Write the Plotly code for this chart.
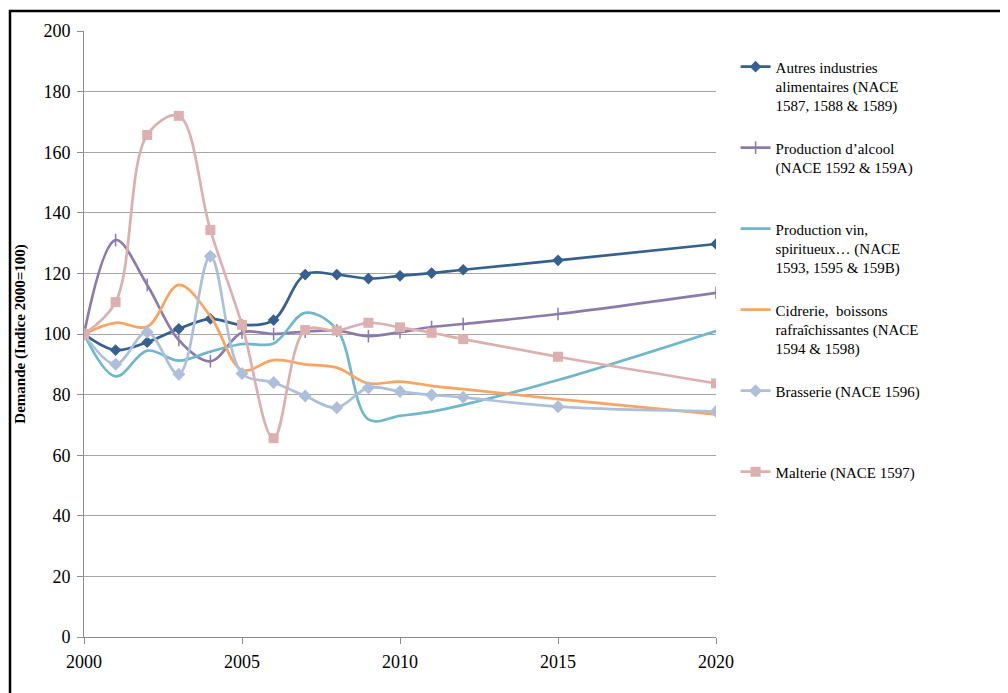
import plotly.graph_objects as go

years = [2000, 2001, 2002, 2003, 2004, 2005, 2006, 2007, 2008, 2009, 2010, 2011, 2012, 2015, 2020]

autres = [100, 94.7, 97.3, 101.7, 105.0, 103.0, 104.6, 119.6, 119.6, 118.3, 119.2, 120.1, 121.2, 124.3, 129.7]
alcool = [100, 131.0, 116.2, 98.0, 91.0, 100.5, 100.0, 100.8, 101.1, 99.3, 100.6, 102.3, 103.3, 106.6, 113.6]
vin = [100, 86.0, 94.5, 91.2, 94.2, 96.7, 96.9, 107.0, 101.5, 71.8, 73.0, 74.4, 76.6, 84.8, 101.0]
cidre = [100, 103.7, 102.4, 116.2, 105.9, 88.1, 91.4, 90.0, 88.9, 83.7, 84.3, 82.9, 81.8, 78.5, 73.5]
brasserie = [100, 90.0, 100.6, 86.7, 125.7, 87.0, 84.0, 79.5, 75.7, 82.3, 81.0, 79.9, 79.1, 76.0, 74.4]
malterie = [100, 110.5, 165.7, 172.0, 134.3, 103.0, 65.6, 101.3, 101.1, 103.7, 102.2, 100.4, 98.3, 92.5, 83.7]

names = [
    "Autres industries<br>alimentaires (NACE<br>1587, 1588 & 1589)",
    "Production d\u2019alcool<br>(NACE 1592 & 159A)",
    "Production vin,<br>spiritueux\u2026 (NACE<br>1593, 1595 & 159B)",
    "Cidrerie,  boissons<br>rafraîchissantes (NACE<br>1594 & 1598)",
    "Brasserie (NACE 1596)",
    "Malterie (NACE 1597)",
]

x_ticks = [2000, 2005, 2010, 2015, 2020]
y_ticks = list(range(0, 201, 20))

series = [
    (autres, "#36608f", dict(symbol="diamond", size=9, color="#36608f")),
    (alcool, "#8c7aac", dict(symbol="line-ns", size=9, line=dict(color="#8c7aac", width=1.5))),
    (vin, "#6fb7cb", None),
    (cidre, "#f9a460", None),
    (brasserie, "#adbfdb", dict(symbol="diamond", size=10, color="#adbfdb")),
    (malterie, "#dcb0ae", dict(symbol="square", size=10, color="#dcb0ae")),
]

FONT = "Liberation Serif, Times New Roman, serif"

fig = go.Figure()
for i, (vals, col, mk) in enumerate(series):
    nlines = names[i].count("<br>") + 1
    label = names[i] + "<br>\u00a0" * (4 - nlines)
    fig.add_trace(go.Scatter(
        x=years, y=vals, name=label,
        mode="lines+markers" if mk else "lines",
        line=dict(color=col, width=2.7, shape="spline", smoothing=1.0),
        marker=mk if mk else None,
        legendgroup=f"g{i}",
    ))

# the page body adds an 8px offset; figure is sized/margined to compensate
fig.update_layout(
    width=1000, height=685,
    margin=dict(l=76, r=292, t=23, b=56),
    paper_bgcolor="white", plot_bgcolor="white",
    font=dict(family=FONT, size=15, color="black"),
    showlegend=True,
    legend=dict(
        x=1.031, xanchor="left", y=0.968, yanchor="top",
        valign="top", tracegroupgap=0,
        font=dict(family=FONT, size=15, color="black"),
        bgcolor="rgba(0,0,0,0)", itemwidth=30,
    ),
    xaxis=dict(
        range=[2000, 2020], tickvals=x_ticks, ticktext=[str(v) for v in x_ticks],
        showgrid=False, zeroline=False,
        showline=True, linecolor="#8c8c8c", linewidth=1,
        ticks="outside", ticklen=6, tickcolor="#8c8c8c",
        ticklabelstandoff=2,
        tickfont=dict(family=FONT, size=18, color="black"),
    ),
    yaxis=dict(
        range=[0, 200], tickvals=y_ticks,
        showgrid=True, gridcolor="#a6a6a6", gridwidth=1,
        zeroline=False,
        showline=True, linecolor="#8c8c8c", linewidth=1,
        ticks="outside", ticklen=6, tickcolor="#8c8c8c",
        ticklabelstandoff=3,
        tickfont=dict(family=FONT, size=18, color="black"),
        title=dict(text="<b>Demande (Indice 2000=100)</b>",
                   font=dict(family=FONT, size=15, color="black"), standoff=14),
    ),
)

# outer frame around the chart (extends past the right/bottom edges)
fig.add_shape(type="rect", xref="paper", yref="paper",
              x0=(10 - 84) / 632, x1=(1012 - 84) / 632,
              y0=(637 - 697) / 606, y1=1 + (31 - 11) / 606,
              line=dict(color="black", width=2.5), fillcolor="rgba(0,0,0,0)", layer="above")

fig.write_html("out.html")
